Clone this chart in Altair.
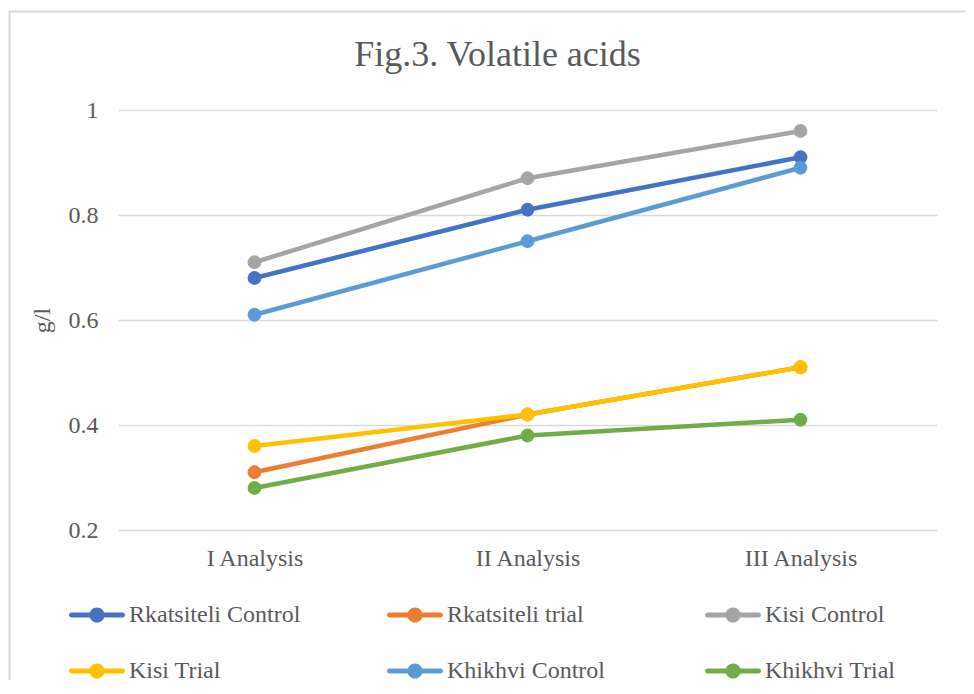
import altair as alt
import pandas as pd

categories = ["I Analysis", "II Analysis", "III Analysis"]
series = ["Rkatsiteli Control", "Rkatsiteli trial", "Kisi Control",
          "Kisi Trial", "Khikhvi Control", "Khikhvi Trial"]
rkatsiteli_control = [0.68, 0.81, 0.91]
rkatsiteli_trial = [0.31, 0.42, 0.51]
kisi_control = [0.71, 0.87, 0.96]
kisi_trial = [0.36, 0.42, 0.51]
khikhvi_control = [0.61, 0.75, 0.89]
khikhvi_trial = [0.28, 0.38, 0.41]
colors = ["#4472C4", "#ED7D31", "#A5A5A5", "#FFC000", "#5B9BD5", "#70AD47"]
y_ticks = [0.2, 0.4, 0.6, 0.8, 1.0]

values = [rkatsiteli_control, rkatsiteli_trial, kisi_control,
          kisi_trial, khikhvi_control, khikhvi_trial]
rows = []
for i, (name, vals) in enumerate(zip(series, values)):
    for j, (cat, v) in enumerate(zip(categories, vals)):
        rows.append({"series": name, "analysis": cat, "value": v, "order": i})
df = pd.DataFrame(rows)

FONT = "Liberation Serif"
TXT = "#595959"

legend_path = ("M-0.91,-0.09 H0.91 A0.09,0.09 0 0,1 0.91,0.09 H-0.91 "
               "A0.09,0.09 0 0,1 -0.91,-0.09 Z "
               "M-0.27,0 A0.27,0.27 0 1,1 0.27,0 A0.27,0.27 0 1,1 -0.27,0 Z")

x_enc = alt.X("analysis:N", sort=categories, title=None,
              scale=alt.Scale(padding=0.5),
              axis=alt.Axis(labelAngle=0, labelFont=FONT, labelFontSize=24,
                            labelColor=TXT, ticks=False, tickSize=0,
                            domain=False, grid=False, labelPadding=16))
y_enc = alt.Y("value:Q", title="g/l",
              scale=alt.Scale(domain=[0.2, 1.0], nice=False, zero=False),
              axis=alt.Axis(values=y_ticks, format=".1~f", labelFont=FONT,
                            labelFontSize=24, labelColor=TXT, ticks=False,
                            tickSize=0, domain=False, grid=True,
                            gridColor="#D9D9D9", gridWidth=1.5,
                            labelPadding=20, titleFont=FONT,
                            titleFontSize=24, titleColor=TXT,
                            titleFontWeight="normal", titlePadding=14))
color_enc = alt.Color("series:N",
                      scale=alt.Scale(domain=series, range=colors),
                      legend=alt.Legend(orient="none", legendX=-49,
                                        legendY=477, columns=3,
                                        direction="horizontal",
                                        gridAlign="all", columnPadding=86,
                                        rowPadding=16, padding=0,
                                        symbolType=legend_path,
                                        symbolSize=3136,
                                        symbolStrokeWidth=0,
                                        symbolOpacity=1,
                                        labelFont=FONT, labelFontSize=24,
                                        labelColor=TXT, labelOffset=4,
                                        labelLimit=400, title=None))

base = alt.Chart(df)
lines = base.mark_line(strokeWidth=4.5, strokeCap="round",
                       strokeJoin="round").encode(
    x=x_enc, y=y_enc, color=color_enc, order="order:Q")
points = base.mark_point(filled=True, size=190, opacity=1).encode(
    x=x_enc, y=y_enc, color=color_enc, order="order:Q")

frame = alt.Chart(pd.DataFrame({"f": [0]})).mark_rect(
    fill=None, stroke="#D9D9D9", strokeWidth=2).encode(
    x=alt.value(-108.5), x2=alt.value(3000),
    y=alt.value(-98.5), y2=alt.value(3000))

chart = alt.layer(frame, lines, points).properties(
    width=819, height=420,
    title=alt.TitleParams("Fig.3. Volatile acids", font=FONT, fontSize=36,
                          color=TXT, fontWeight="normal", anchor="middle",
                          dx=-30, offset=-91.5, baseline="alphabetic"),
    padding={"left": 110, "top": 102, "right": 29, "bottom": 150},
    autosize=alt.AutoSizeParams(type="none"),
).configure(background="white", font=FONT).configure_view(
    stroke=None
).configure_legend(labelFont=FONT, labelFontSize=24, labelColor=TXT
).configure_axis(labelFont=FONT, titleFont=FONT)

chart.save("out.html", embed_options={"renderer": "svg", "actions": False})
